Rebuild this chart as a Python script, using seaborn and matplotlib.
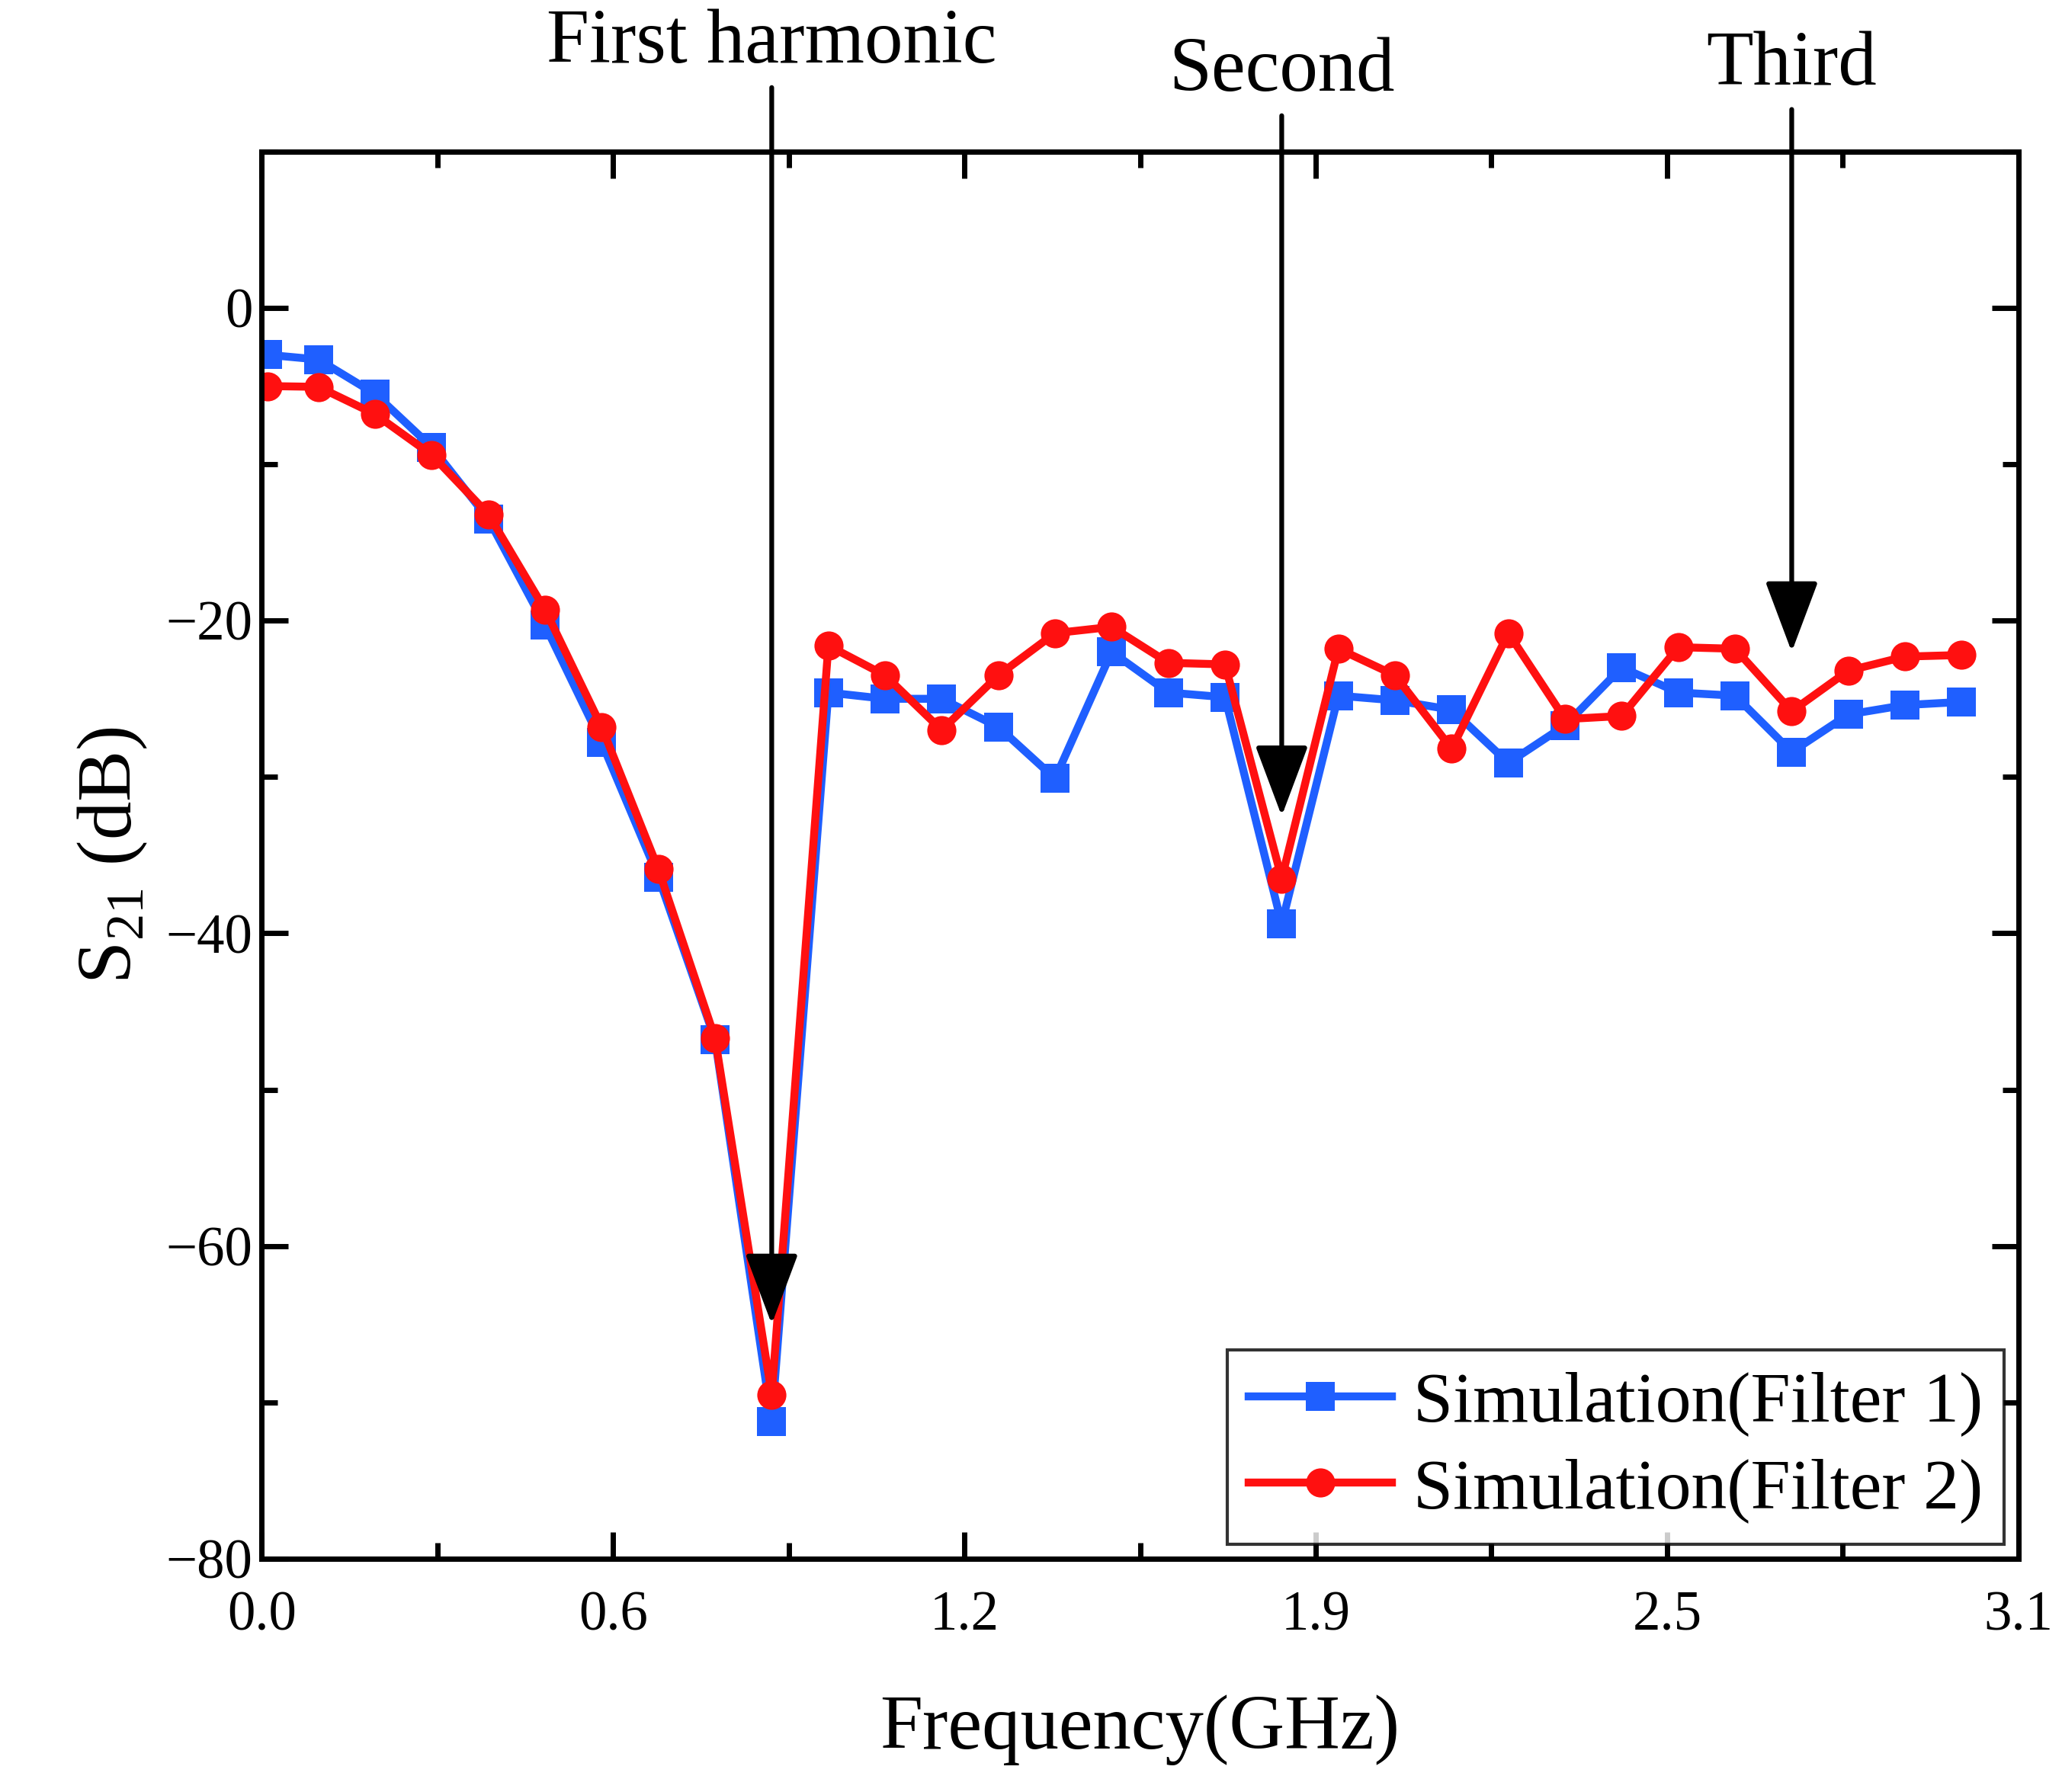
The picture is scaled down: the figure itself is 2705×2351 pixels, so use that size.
import matplotlib
matplotlib.use("Agg")
import matplotlib.pyplot as plt
import seaborn as sns
import pandas as pd
import numpy as np
from matplotlib.ticker import FixedLocator, MultipleLocator

freq = [0.01] + [round(0.1 * i, 1) for i in range(1, 31)]
filter1 = [-3, -3.3, -5.5, -8.9, -13.5, -20.3, -27.8, -36.4, -46.8, -71.2,
           -24.6, -25.0, -25.0, -26.8, -30.1, -22.0, -24.6, -24.9, -39.4, -24.8,
           -25.1, -25.7, -29.1, -26.7, -23.0, -24.6, -24.8, -28.4, -26.0, -25.4, -25.2]
filter2 = [-5, -5.05, -6.8, -9.4, -13.2, -19.3, -26.8, -35.9, -46.7, -69.5,
           -21.6, -23.5, -27.0, -23.5, -20.8, -20.4, -22.7, -22.8, -36.5, -21.8,
           -23.5, -28.2, -20.8, -26.3, -26.1, -21.7, -21.8, -25.8, -23.2, -22.3, -22.2]
x_ticks = [0.0, 0.62, 1.24, 1.86, 2.48, 3.1]
x_tick_labels = ["0.0", "0.6", "1.2", "1.9", "2.5", "3.1"]
annotations = [("First harmonic", 0.9, -65), ("Second", 1.8, -32.5), ("Third", 2.7, -22)]

plt.rcParams["font.family"] = "Liberation Serif"
plt.rcParams["mathtext.fontset"] = "custom"
plt.rcParams["mathtext.rm"] = "Liberation Serif"

fig = plt.figure(figsize=(10.82, 9.404), dpi=250)
ax = fig.add_axes([198/1560, 1 - 1183/1360, (1527-198)/1560, (1183-115)/1360])

df = pd.DataFrame({"f": freq * 2, "s": filter1 + filter2,
                   "Series": ["Simulation(Filter 1)"] * len(freq) + ["Simulation(Filter 2)"] * len(freq)})
sns.lineplot(data=df, x="f", y="s", hue="Series", style="Series",
             palette=["#1f5fff", "#ff1010"], markers=["s", "o"], dashes=False,
             markersize=11, linewidth=3, markeredgewidth=0, ax=ax)

ax.set_xlim(0, 3.1)
ax.set_ylim(-80, 10)
ax.xaxis.set_major_locator(FixedLocator(x_ticks))
ax.set_xticklabels(x_tick_labels)
ax.xaxis.set_minor_locator(FixedLocator([0.31, 0.93, 1.55, 2.17, 2.79]))
ax.yaxis.set_major_locator(FixedLocator([-80, -60, -40, -20, 0]))
ax.yaxis.set_minor_locator(MultipleLocator(10))
ax.tick_params(which="both", direction="in", top=True, right=True, width=2, labelsize=21)
ax.tick_params(which="major", length=10)
ax.tick_params(which="minor", length=6)
ax.tick_params(axis="x", pad=12)
for s in ax.spines.values():
    s.set_linewidth(2)
ax.set_xlabel("Frequency(GHz)", fontsize=29, labelpad=20)
ax.set_ylabel("S$_{21}$ (dB)", fontsize=29, labelpad=6)

ytext = [14.6, 12.8, 13.2]
for (txt, xv, yv), yt in zip(annotations, ytext):
    ax.annotate(txt, xy=(xv, yv), xytext=(xv, yt), textcoords="data",
                ha="center", va="bottom", fontsize=29, annotation_clip=False,
                arrowprops=dict(arrowstyle="-|>,head_length=0.8,head_width=0.3",
                                color="black", lw=1.8, shrinkA=1, shrinkB=0))

leg = ax.legend(loc="lower right", fontsize=27, frameon=True, fancybox=False,
                edgecolor="black", handlelength=2.0, handletextpad=0.3,
                borderaxespad=0.2, borderpad=0.3, labelspacing=0.3)
leg.get_frame().set_linewidth(1.2)
leg.set_title(None)

fig.savefig("out.png", dpi=250)
